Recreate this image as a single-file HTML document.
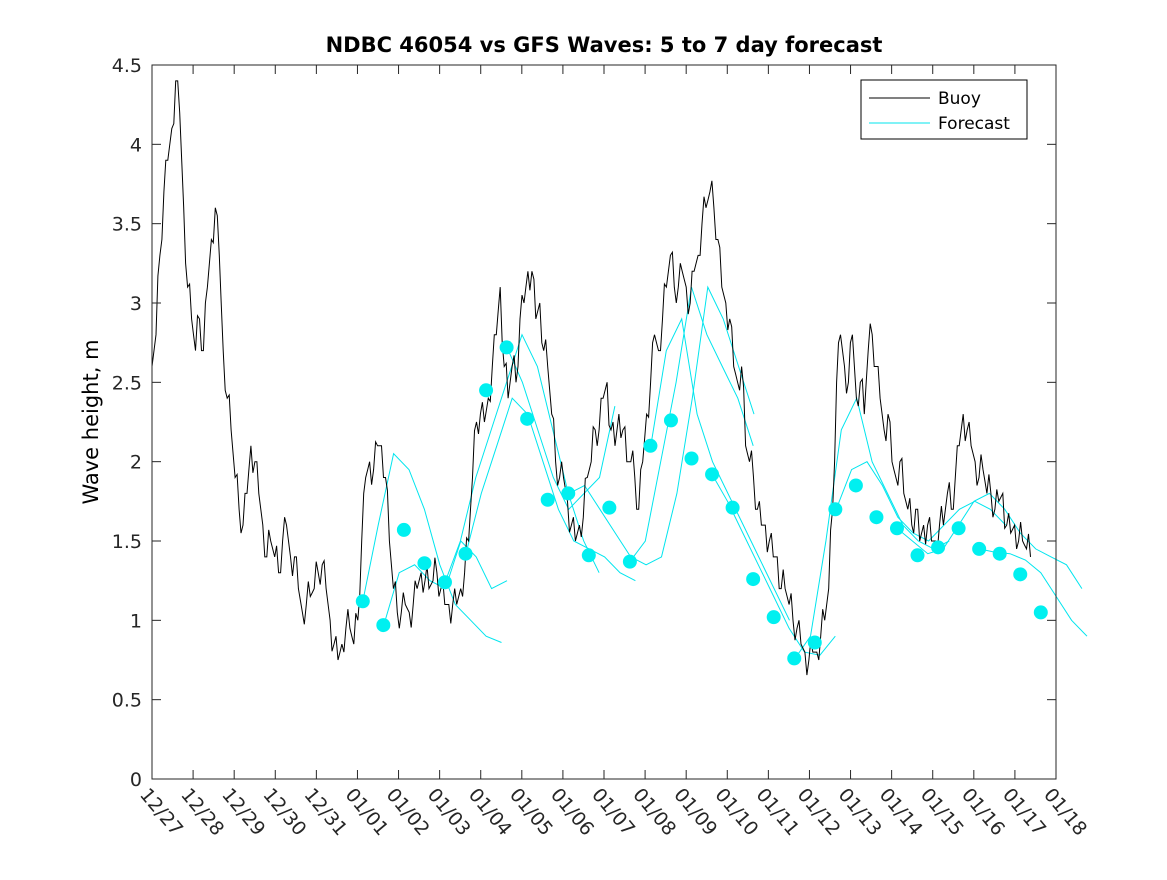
<!DOCTYPE html>
<html><head><meta charset="utf-8"><style>
body{margin:0;background:#fff;}
svg{font-family:"DejaVu Sans","Liberation Sans",sans-serif;}
</style></head><body>
<svg id="chart" width="1167" height="875" viewBox="0 0 1167 875">
<rect width="1167" height="875" fill="#fff"/>
<text x="604" y="52" text-anchor="middle" font-size="21" font-weight="bold">NDBC 46054 vs GFS Waves: 5 to 7 day forecast</text>
<text transform="translate(98,422) rotate(-90)" text-anchor="middle" font-size="21">Wave height, m</text>
<g id="plot"></g>
<g id="axes"></g>
<g>
<rect x="861" y="80" width="166" height="59" fill="#fff" stroke="#000" stroke-width="1"/>
<line x1="869" y1="98" x2="930" y2="98" stroke="#000"/>
<text x="938" y="104" font-size="17">Buoy</text>
<line x1="869" y1="123" x2="930" y2="123" stroke="#00e5ee"/>
<text x="938" y="129" font-size="17">Forecast</text>
</g>
</svg>
<script>
const xLabels=["12/27","12/28","12/29","12/30","12/31","01/01","01/02","01/03","01/04","01/05","01/06","01/07","01/08","01/09","01/10","01/11","01/12","01/13","01/14","01/15","01/16","01/17","01/18"];
const yTicks=[0,0.5,1,1.5,2,2.5,3,3.5,4,4.5];
const buoyStartDay=0;
const buoyStepDay=0.0963;
const buoyValues=[2.6,2.8,3.3,3.7,3.9,4.1,4.4,4.2,3.6,3.1,2.9,2.7,2.9,2.7,3.1,3.4,3.6,3.3,2.7,2.4,2.2,1.9,1.7,1.6,1.8,2.1,2.0,1.8,1.6,1.4,1.5,1.4,1.3,1.5,1.6,1.4,1.4,1.2,1.05,1.1,1.15,1.2,1.3,1.35,1.2,1.0,0.85,0.75,0.85,0.95,0.95,0.85,1.0,1.5,1.9,2.0,1.95,2.1,2.1,1.9,1.5,1.2,1.05,1.05,1.1,1.05,1.1,1.2,1.3,1.25,1.2,1.25,1.3,1.2,1.1,1.1,1.1,1.1,1.2,1.3,1.5,1.9,2.25,2.3,2.25,2.4,2.6,2.8,3.1,2.6,2.4,2.6,2.5,2.9,3.0,3.2,3.2,2.9,3.0,2.7,2.6,2.3,2.0,1.9,1.9,1.75,1.6,1.5,1.6,1.65,1.9,2.0,2.2,2.2,2.4,2.5,2.2,2.1,2.3,2.2,2.0,2.0,1.9,1.7,2.0,2.3,2.5,2.8,2.7,2.9,3.1,3.3,3.1,3.1,3.2,3.1,3.0,3.2,3.3,3.5,3.6,3.7,3.6,3.4,3.1,3.0,2.9,2.6,2.5,2.6,2.1,2.0,1.9,1.7,1.6,1.6,1.5,1.4,1.4,1.2,1.2,1.1,1.0,0.95,0.85,0.8,0.75,0.8,0.8,0.9,1.0,1.2,1.7,2.5,2.8,2.6,2.5,2.8,2.4,2.5,2.3,2.7,2.8,2.6,2.4,2.2,2.3,2.0,1.9,2.0,1.8,1.7,1.6,1.7,1.5,1.6,1.6,1.5,1.5,1.6,1.6,1.8,1.7,1.9,2.1,2.3,2.2,2.1,2.0,1.9,1.95,1.8,1.8,1.7,1.75,1.8,1.6,1.55,1.6,1.5,1.5,1.45,1.4];
const buoyJitter=[0,0.12,-0.1,0.1,0,-0.12,0.1,0,-0.1,0.12];
const dotStartDay=5.13;
const dotStepDay=0.5;
const dotValues=[1.12,0.97,1.57,1.36,1.24,1.42,2.45,2.72,2.27,1.76,1.80,1.41,1.71,1.37,2.10,2.26,2.02,1.92,1.71,1.26,1.02,0.76,0.86,1.70,1.85,1.65,1.58,1.41,1.46,1.58,1.45,1.42,1.29,1.05];
const runStepDay=0.375;
const runStarts=[5.13,5.64,7.13,7.64,8.64,10.15,11.63,12.14,13.63,15.65,16.65,18.13,20.13];
const runValues=[
[1.12,1.6,2.05,1.95,1.7,1.35,1.1,1.0,0.9,0.86],
[0.97,1.3,1.35,1.25,1.2,1.5,1.4,1.2,1.25],
[1.24,1.5,1.9,2.2,2.5,2.8,2.6,2.2,1.8,1.5,1.3],
[1.42,1.8,2.1,2.4,2.3,2.0,1.7,1.5,1.45,1.4,1.3,1.25],
[2.72,2.5,2.2,1.9,1.7,1.8,1.9,2.35],
[1.8,1.85,1.7,1.55,1.4,1.35,1.4,1.8,2.4,3.1,2.9,2.6,2.3],
[1.37,1.5,2.0,2.5,3.1,2.8,2.6,2.4,2.1],
[2.1,2.7,2.9,2.3,2.0,1.8,1.6,1.4,1.2,1.0],
[1.92,1.75,1.55,1.35,1.15,0.95,0.8,0.78,0.9],
[0.76,0.9,1.5,2.2,2.4,2.0,1.8,1.6,1.5,1.45,1.5],
[1.7,1.95,2.0,1.85,1.65,1.55,1.5,1.6,1.7,1.75,1.7,1.6],
[1.58,1.5,1.42,1.45,1.6,1.75,1.8,1.7,1.55,1.45,1.4,1.35,1.2],
[1.45,1.43,1.42,1.38,1.3,1.15,1.0,0.9]];
const X0=152,X1=1056,Y0=779,Y1=65,DAYS=22,YMAX=4.5;
const xs=d=>X0+(X1-X0)*d/DAYS;
const ys=v=>Y0-(Y0-Y1)*v/YMAX;
const NS="http://www.w3.org/2000/svg";
const plot=document.getElementById('plot'),axes=document.getElementById('axes');
function mk(t,a,p){const e=document.createElementNS(NS,t);for(const k in a)e.setAttribute(k,a[k]);p.appendChild(e);return e;}
runValues.forEach((vals,i)=>{
 const pts=vals.map((v,j)=>xs(runStarts[i]+j*runStepDay).toFixed(1)+','+ys(v).toFixed(1)).join(' ');
 const el=mk('polyline',{points:pts,fill:'none',stroke:'#00e5ee','stroke-width':1},plot);
 
 
});
let bp=[];
buoyValues.forEach((v,i)=>{
 const d=buoyStartDay+i*buoyStepDay;
 bp.push(xs(d).toFixed(1)+','+ys(v).toFixed(1));
 if(i<buoyValues.length-1){
  const j=buoyJitter[i%buoyJitter.length];
  const m=(v+buoyValues[i+1])/2+j;
  bp.push(xs(d+buoyStepDay/2).toFixed(1)+','+ys(m).toFixed(1));
 }
});
const bl=mk('polyline',{points:bp.join(' '),fill:'none',stroke:'#000','stroke-width':1},plot);


dotValues.forEach((v,i)=>{
 const c=mk('circle',{cx:xs(dotStartDay+i*dotStepDay),cy:ys(v),r:7,fill:'#00f0f0'},plot);
 
 
});
const box=mk('rect',{x:X0,y:Y1,width:X1-X0,height:Y0-Y1,fill:'none',stroke:'#262626','stroke-width':1},axes);


yTicks.forEach(v=>{
 const y=ys(v);
 mk('line',{x1:X0,y1:y,x2:X0+9,y2:y,stroke:'#262626'},axes);
 mk('line',{x1:X1,y1:y,x2:X1-9,y2:y,stroke:'#262626'},axes);
 const t=mk('text',{x:X0-10,y:y+7,'text-anchor':'end','font-size':19,fill:'#262626'},axes);
 t.textContent=String(v);
 
 
});
xLabels.forEach((l,i)=>{
 const x=xs(i);
 mk('line',{x1:x,y1:Y0,x2:x,y2:Y0-9,stroke:'#262626'},axes);
 mk('line',{x1:x,y1:Y1,x2:x,y2:Y1+9,stroke:'#262626'},axes);
 const t=mk('text',{transform:`translate(${x-13},${Y0+16}) rotate(50)`,'font-size':19,fill:'#262626'},axes);
 t.textContent=l;
 
 
});
</script>
</body></html>
